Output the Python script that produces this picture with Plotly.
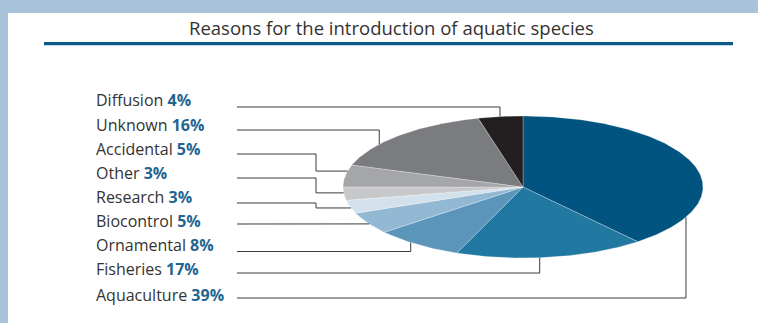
import numpy as np
import plotly.graph_objects as go

# ---- data ----
categories = ["Aquaculture", "Fisheries", "Ornamental", "Biocontrol", "Research",
              "Other", "Accidental", "Unknown", "Diffusion"]
values = [39, 17, 8, 5, 3, 3, 5, 16, 4]
colors = ["#01547f", "#2178a1", "#5b95b9", "#92b8d4", "#d3e1ec",
          "#c7c8ca", "#a5a6a9", "#7b7c7f", "#231f20"]
title_text = "Reasons for the introduction of aquatic species"

# ---- layout parameters (pixel space) ----
W, H = 758, 323
cx, cy, rx, ry = 523, 187, 180, 71
label_x = 94
line_x0 = 237
elbow_x = 316
label_order = ["Diffusion", "Unknown", "Accidental", "Other", "Research",
               "Biocontrol", "Ornamental", "Fisheries", "Aquaculture"]
label_y = [100, 124.5, 148.5, 172.5, 196.5, 220.5, 245, 269, 295]
line_y = [107, 130, 154, 178, 203, 224, 251.5, 273, 298]
anchor_frac = {"Aquaculture": 0.82, "Fisheries": 0.56, "Ornamental": 0.59,
               "Biocontrol": 0.46, "Research": 0.41, "Other": 0.56,
               "Accidental": 0.72, "Unknown": 0.33, "Diffusion": 0.49}
elbow_mode = {"Biocontrol", "Research", "Other", "Accidental"}


def ell(theta_deg):
    t = np.radians(theta_deg)
    return cx + rx * np.sin(t), cy - ry * np.cos(t)


fig = go.Figure()

total = sum(values)
start = 0.0
anchors = {}
for cat, v, col in zip(categories, values, colors):
    a0 = start / total * 360
    a1 = (start + v) / total * 360
    th = np.linspace(a0, a1, max(8, int(v * 6)))
    xs, ys = ell(th)
    px = np.concatenate([[cx], xs, [cx]])
    py = np.concatenate([[cy], ys, [cy]])
    fig.add_trace(go.Scatter(x=px, y=py, mode="lines", fill="toself",
                             fillcolor=col,
                             line=dict(color="rgba(255,255,255,0.45)", width=0.6),
                             hoverinfo="skip", showlegend=False))
    am = a0 + (a1 - a0) * anchor_frac[cat]
    anchors[cat] = ell(am)
    start += v

# leader lines
for cat, ly in zip(label_order, line_y):
    axp, ayp = anchors[cat]
    if cat in elbow_mode:
        xs = [line_x0, elbow_x, elbow_x, axp]
        ys = [ly, ly, ayp, ayp]
    else:
        xs = [line_x0, axp, axp]
        ys = [ly, ly, ayp]
    fig.add_trace(go.Scatter(x=xs, y=ys, mode="lines",
                             line=dict(color="#3a3a3a", width=1),
                             hoverinfo="skip", showlegend=False))

val_map = dict(zip(categories, values))
annotations = []
for cat, ty in zip(label_order, label_y):
    annotations.append(dict(
        x=label_x, y=ty, xref="x", yref="y", xanchor="left", yanchor="middle",
        showarrow=False,
        text=f"{cat} <span style='color:#1f6592'><b>{val_map[cat]}%</b></span>",
        font=dict(family="Open Sans", size=16, color="#333333")))
annotations.append(dict(
    x=391, y=27, xref="x", yref="y", xanchor="center", yanchor="middle",
    showarrow=False, text=title_text,
    font=dict(family="Open Sans", size=18.5, color="#333333")))

shapes = [
    dict(type="rect", xref="x", yref="y", x0=8, x1=W + 5, y0=13, y1=H + 5,
         fillcolor="white", line=dict(width=0), layer="below"),
    dict(type="rect", xref="x", yref="y", x0=44, x1=733, y0=42, y1=45.3,
         fillcolor="#0b5a8a", line=dict(width=0), layer="below"),
]

fig.update_layout(
    width=W, height=H, margin=dict(l=0, r=0, t=0, b=0),
    paper_bgcolor="#a9c4da", plot_bgcolor="rgba(0,0,0,0)",
    xaxis=dict(range=[0, W], visible=False, fixedrange=True),
    yaxis=dict(range=[H, 0], visible=False, fixedrange=True),
    shapes=shapes, annotations=annotations, showlegend=False,
)

fig.write_html("out.html", config=dict(displayModeBar=False),
               post_script="document.body.style.margin='0';document.body.style.overflow='hidden';")
